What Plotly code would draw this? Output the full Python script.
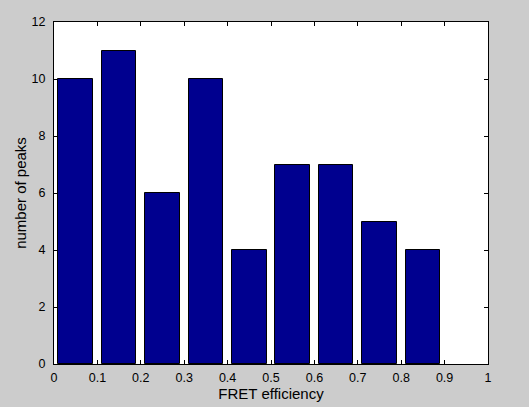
import plotly.graph_objects as go

centers = [0.05, 0.15, 0.25, 0.35, 0.45, 0.55, 0.65, 0.75, 0.85]
counts = [10, 11, 6, 10, 4, 7, 7, 5, 4]
x_ticks = [0, 0.1, 0.2, 0.3, 0.4, 0.5, 0.6, 0.7, 0.8, 0.9, 1]
x_tick_labels = ["0", "0.1", "0.2", "0.3", "0.4", "0.5", "0.6", "0.7", "0.8", "0.9", "1"]
y_ticks = [0, 2, 4, 6, 8, 10, 12]

FS = 12.5

fig = go.Figure(go.Bar(
    x=centers, y=counts, width=0.08,
    marker=dict(color="rgb(0,0,143)", line=dict(color="black", width=1)),
))

axis_common = dict(
    showline=True, linecolor="black", linewidth=1, mirror="ticks",
    ticks="inside", ticklen=4, tickcolor="black", showgrid=False, zeroline=False,
    automargin=False,
    tickfont=dict(family="Liberation Sans, Arial", size=FS, color="black"),
)

fig.update_layout(
    width=529, height=407,
    margin=dict(l=54, r=41, t=22, b=43),
    paper_bgcolor="#cccccc", plot_bgcolor="white",
    showlegend=False,
    font=dict(family="Liberation Sans, Arial", size=FS, color="black"),
    bargap=0,
)
fig.update_xaxes(range=[0, 1], tickvals=x_ticks, ticktext=x_tick_labels,
                 title=dict(text="FRET efficiency", standoff=1), ticklabelstandoff=2, **axis_common)
fig.update_yaxes(range=[0, 12], tickvals=y_ticks,
                 title=dict(text="number of peaks", standoff=1), ticklabelstandoff=5, **axis_common)

fig.write_html("out.html", config={"displayModeBar": False},
               post_script="document.body.style.margin='0';document.body.style.overflow='hidden';")
